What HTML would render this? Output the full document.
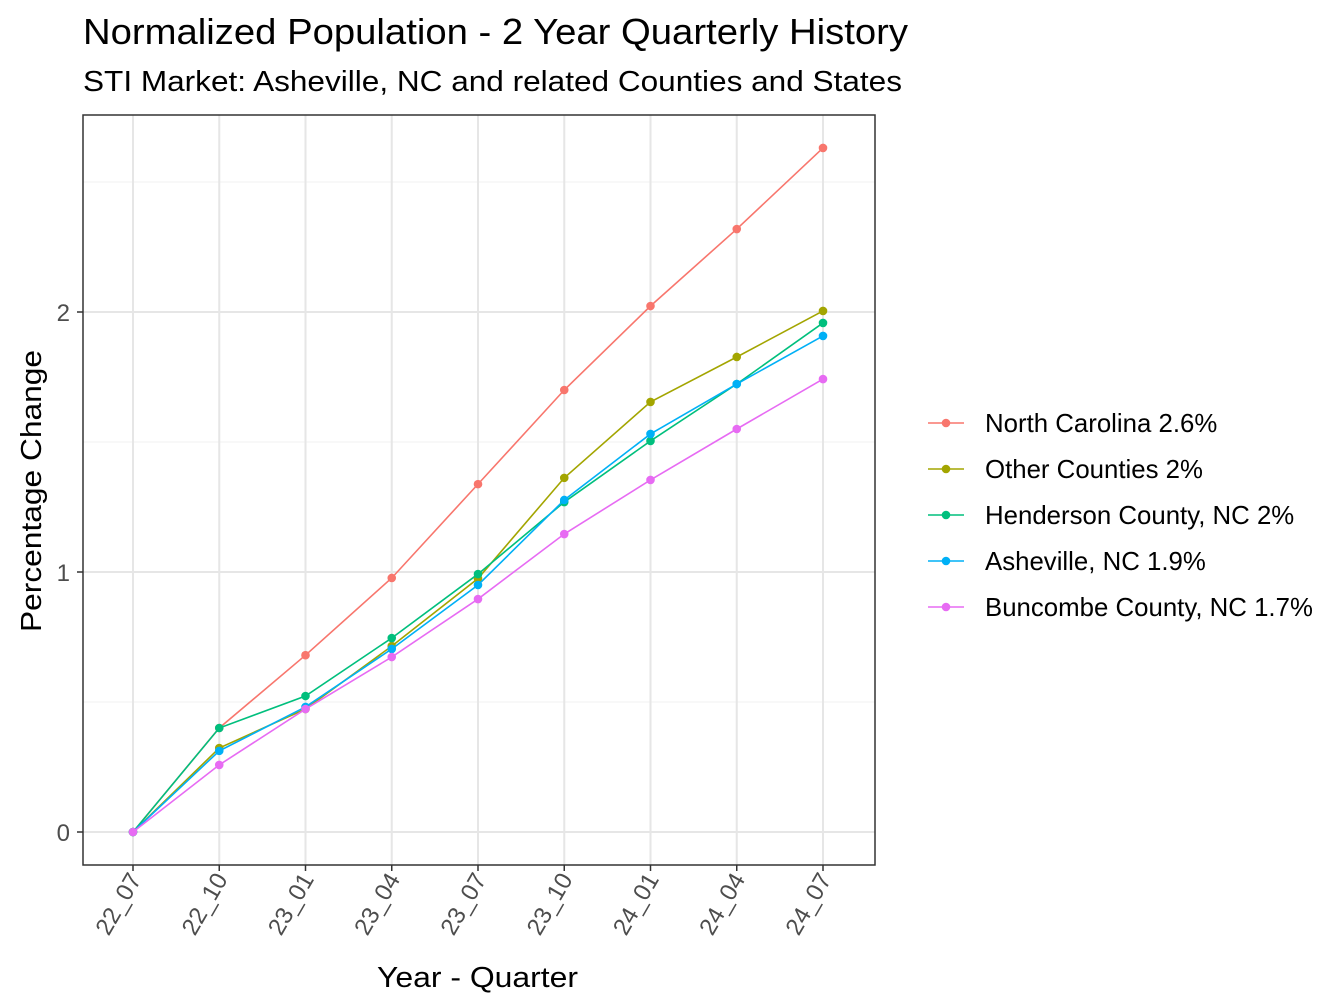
<!DOCTYPE html>
<html><head><meta charset="utf-8"><style>
body{margin:0;background:#fff;}
svg{display:block;font-family:"Liberation Sans",Arial,sans-serif;}
</style></head><body>
<svg id="chart" width="1344" height="1008" viewBox="0 0 1344 1008">
<text x="83" y="44" font-size="36" textLength="825" lengthAdjust="spacingAndGlyphs" fill="#000">Normalized Population - 2 Year Quarterly History</text>
<text x="83" y="91" font-size="29" textLength="819" lengthAdjust="spacingAndGlyphs" fill="#000">STI Market: Asheville, NC and related Counties and States</text>
<g id="grid"></g>
<g id="series"></g>
<rect x="83" y="115" width="792" height="750" fill="none" stroke="#333" stroke-width="1.5"/>
<g id="axes"></g>
<text x="377" y="987" font-size="29" textLength="201" lengthAdjust="spacingAndGlyphs">Year - Quarter</text>
<text transform="translate(41,632) rotate(-90)" font-size="29" textLength="282" lengthAdjust="spacingAndGlyphs">Percentage Change</text>
<g id="legend"></g>
</svg>
<script>
const categories=["22_07","22_10","23_01","23_04","23_07","23_10","24_01","24_04","24_07"];
const seriesNames=["North Carolina 2.6%","Other Counties 2%","Henderson County, NC 2%","Asheville, NC 1.9%","Buncombe County, NC 1.7%"];
const seriesColors=["#F8766D","#A3A500","#00BF7D","#00B0F6","#E76BF3"];
const ncValues=[0,0.40,0.68,0.977,1.338,1.70,2.023,2.319,2.631];
const otherValues=[0,0.323,0.473,0.715,0.975,1.362,1.654,1.827,2.004];
const hendersonValues=[0,0.40,0.523,0.746,0.992,1.269,1.504,1.723,1.958];
const ashevilleValues=[0,0.312,0.481,0.704,0.95,1.277,1.531,1.723,1.908];
const buncombeValues=[0,0.258,0.473,0.673,0.896,1.146,1.354,1.55,1.742];
const yTicks=[0,1,2];
const yMinor=[0.5,1.5,2.5];
const allSeries=[ncValues,otherValues,hendersonValues,ashevilleValues,buncombeValues];
const NS="http://www.w3.org/2000/svg";
const x=i=>133+i*(823-133)/(categories.length-1);
const y=v=>832-v*260;
function mk(tag,attrs,parent){const e=document.createElementNS(NS,tag);for(const k in attrs)e.setAttribute(k,attrs[k]);parent.appendChild(e);return e;}
const grid=document.getElementById('grid'),axes=document.getElementById('axes'),ser=document.getElementById('series'),leg=document.getElementById('legend');
yMinor.forEach(v=>{const l=mk('line',{x1:83,x2:875,y1:y(v),y2:y(v),stroke:'#f0f0f0','stroke-width':1},grid);

});
yTicks.forEach(v=>{const l=mk('line',{x1:83,x2:875,y1:y(v),y2:y(v),stroke:'#e6e6e6','stroke-width':2},grid);


const t=mk('line',{x1:77,x2:83,y1:y(v),y2:y(v),stroke:'#333','stroke-width':1.5},axes);


const tx=mk('text',{x:70,y:y(v)+9,'font-size':24,'text-anchor':'end',fill:'#4d4d4d'},axes);tx.textContent=v;

});
categories.forEach((c,i)=>{const l=mk('line',{x1:x(i),x2:x(i),y1:115,y2:865,stroke:'#e6e6e6','stroke-width':2},grid);


const t=mk('line',{x1:x(i),x2:x(i),y1:865,y2:871,stroke:'#333','stroke-width':1.5},axes);


const tx=mk('text',{transform:`translate(${x(i)+9},${879}) rotate(-60)`,'font-size':24,'text-anchor':'end',fill:'#4d4d4d'},axes);tx.textContent=c;

});
allSeries.forEach((vals,s)=>{const g=mk('g',{},ser);


const p=mk('polyline',{points:vals.map((v,i)=>x(i)+','+y(v)).join(' '),fill:'none',stroke:seriesColors[s],'stroke-width':1.6},g);


vals.forEach((v,i)=>{const c=mk('circle',{cx:x(i),cy:y(v),r:4.3,fill:seriesColors[s]},g);

});});
seriesNames.forEach((n,s)=>{const yy=423+s*46;const g=mk('g',{},leg);


mk('line',{x1:928,x2:964,y1:yy,y2:yy,stroke:seriesColors[s],'stroke-width':1.6},g);
mk('circle',{cx:946,cy:yy,r:4.3,fill:seriesColors[s]},g);
const t=mk('text',{x:985,y:yy+9,'font-size':25.8,fill:'#000'},g);t.textContent=n;});
</script>
</body></html>
